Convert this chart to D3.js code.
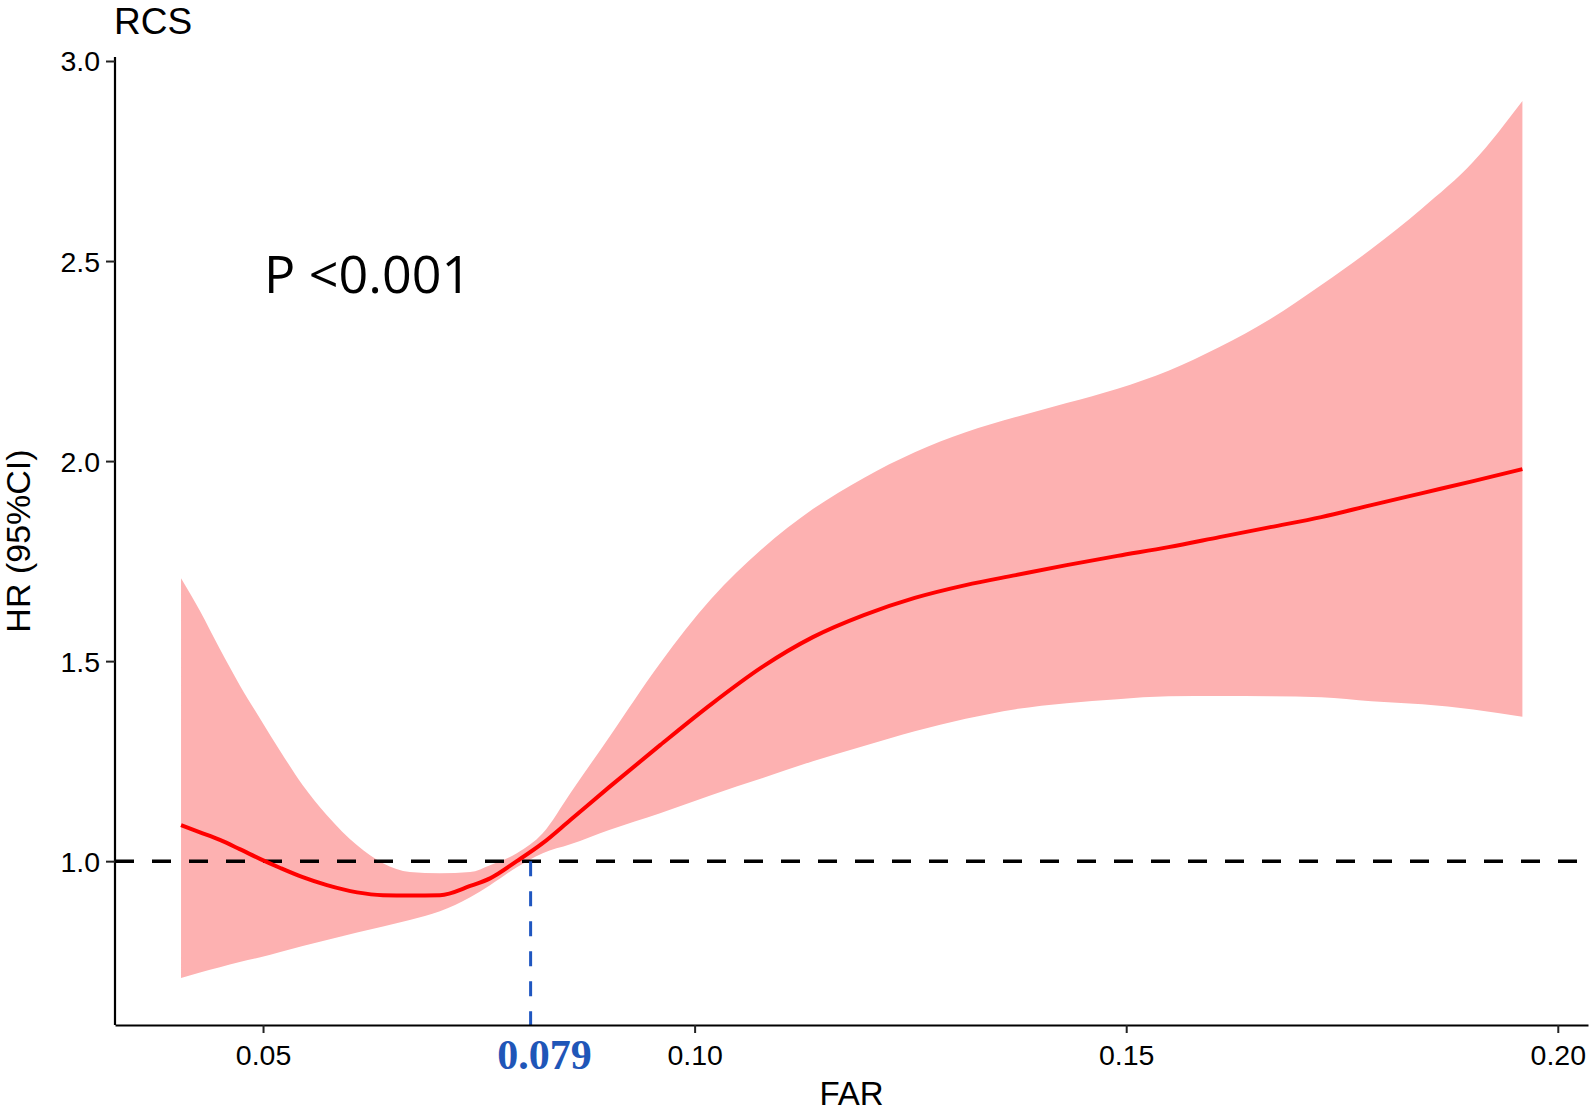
<!DOCTYPE html>
<html>
<head>
<meta charset="utf-8">
<script src="https://cdn.jsdelivr.net/npm/d3@7"></script>
<style>
  html, body { margin: 0; padding: 0; background: #ffffff; }
  svg { display: block; }
</style>
</head>
<body>
<svg id="chart" width="1594" height="1111"></svg>
<script>
// ---- data ----
const far = [0.0405, 0.0427, 0.045, 0.0473, 0.0497, 0.052, 0.0546, 0.0574, 0.0609, 0.0639,
             0.067, 0.0705, 0.074, 0.0763, 0.0794, 0.0824, 0.0856, 0.0901, 0.096, 0.1019,
             0.1078, 0.1137, 0.1196, 0.1255, 0.1314, 0.1372, 0.1431, 0.149, 0.1549, 0.1608,
             0.1667, 0.1726, 0.1784, 0.1843, 0.1902, 0.1959];
const hr = [1.09, 1.072, 1.053, 1.03, 1.005, 0.983, 0.96, 0.94, 0.922, 0.915,
            0.914, 0.915, 0.938, 0.957, 1.0, 1.045, 1.103, 1.185, 1.29, 1.392,
            1.485, 1.56, 1.615, 1.658, 1.69, 1.715, 1.74, 1.763, 1.785, 1.81,
            1.835, 1.86, 1.89, 1.92, 1.95, 1.98];
const upper = [1.707, 1.625, 1.53, 1.44, 1.355, 1.275, 1.19, 1.115, 1.04, 0.995,
               0.973, 0.97, 0.973, 0.99, 1.02, 1.07, 1.17, 1.31, 1.495, 1.655,
               1.78, 1.88, 1.958, 2.022, 2.072, 2.11, 2.145, 2.181, 2.226, 2.285,
               2.355, 2.44, 2.53, 2.632, 2.748, 2.90];
const lower = [0.708, 0.722, 0.735, 0.748, 0.76, 0.773, 0.788, 0.803, 0.822, 0.837,
               0.853, 0.875, 0.91, 0.94, 0.985, 1.02, 1.042, 1.078, 1.12, 1.165,
               1.207, 1.25, 1.288, 1.325, 1.356, 1.38, 1.395, 1.405, 1.412, 1.413,
               1.412, 1.41, 1.40, 1.392, 1.379, 1.361];
const xTicks = [0.05, 0.10, 0.15, 0.20];
const yTicks = [1.0, 1.5, 2.0, 2.5, 3.0];
const refHR = 1.0;
const cutoffX = 0.081;          // where the marker is drawn
const cutoffLabel = "0.079";
const titleText = "RCS";
const pText = "P <0.001";
const xTitle = "FAR";
const yTitle = "HR (95%CI)";

// ---- layout ----
const svg = d3.select("#chart");
const padL = 115, padR = 1588, padT = 61, padB = 1025;

const x = d3.scaleLinear().domain([0.03285, 0.2035]).range([padL, padR]);
const y = d3.scaleLinear().domain([0.5905, 3.0]).range([padB, padT]);

const rows = far.map((f, i) => ({ f, hr: hr[i], lo: lower[i], hi: upper[i] }));

// confidence band
svg.append("path")
  .datum(rows)
  .attr("fill", "#fdb1b1")
  .attr("stroke", "none")
  .attr("d", d3.area()
    .x(d => x(d.f))
    .y0(d => y(d.lo))
    .y1(d => y(d.hi))
    .curve(d3.curveMonotoneX));

// reference line HR = 1
svg.append("line")
  .attr("x1", padL).attr("x2", padR)
  .attr("y1", y(refHR)).attr("y2", y(refHR))
  .attr("stroke", "#000")
  .attr("stroke-width", 3.5)
  .attr("stroke-dasharray", "19,18");

// HR curve
svg.append("path")
  .datum(rows)
  .attr("fill", "none")
  .attr("stroke", "#ff0000")
  .attr("stroke-width", 4)
  .attr("d", d3.line()
    .x(d => x(d.f))
    .y(d => y(d.hr))
    .curve(d3.curveMonotoneX));

// cutoff vertical dashed line
svg.append("line")
  .attr("x1", x(cutoffX)).attr("x2", x(cutoffX))
  .attr("y1", y(refHR)).attr("y2", padB)
  .attr("stroke", "#1f56c0")
  .attr("stroke-width", 3)
  .attr("stroke-dasharray", "15,15");

// axes
const xAxis = svg.append("g")
  .attr("transform", `translate(0,${padB})`)
  .call(d3.axisBottom(x).tickValues(xTicks).tickFormat(d3.format(".2f")).tickSize(8).tickSizeOuter(0).tickPadding(12));
const yAxis = svg.append("g")
  .attr("transform", `translate(${padL},0)`)
  .call(d3.axisLeft(y).tickValues(yTicks).tickFormat(d3.format(".1f")).tickSize(9).tickSizeOuter(0).tickPadding(6));

[xAxis, yAxis].forEach(g => {
  g.select(".domain").attr("stroke", "#000").attr("stroke-width", 2.2);
  g.selectAll(".tick line").attr("stroke", "#222").attr("stroke-width", 2);
  g.selectAll(".tick text")
    .attr("fill", "#000")
    .style("font-family", "'Liberation Sans', Arial, sans-serif")
    .style("font-size", "28.5px");
});
yAxis.select(".domain").attr("d", `M0,${padB}V${padT - 4}`);
yAxis.selectAll(".tick text").attr("dy", "0.35em");

// cutoff label
svg.append("text")
  .attr("x", x(cutoffX) + 14)
  .attr("y", 1069)
  .attr("text-anchor", "middle")
  .attr("fill", "#1f56b8")
  .style("font-family", "'Liberation Serif', 'Times New Roman', serif")
  .style("font-weight", "bold")
  .style("font-size", "42px")
  .text(cutoffLabel);

// title
svg.append("text")
  .attr("x", padL - 1)
  .attr("y", 34)
  .attr("fill", "#000")
  .style("font-family", "'Liberation Sans', Arial, sans-serif")
  .style("font-size", "37px")
  .text(titleText);

// P value
svg.append("text")
  .attr("x", 264)
  .attr("y", 293)
  .attr("fill", "#000")
  .style("font-family", "'Open Sans', 'Noto Sans', sans-serif")
  .style("font-size", "52px")
  .text(pText);

// axis titles
svg.append("text")
  .attr("x", (padL + padR) / 2)
  .attr("y", 1105)
  .attr("text-anchor", "middle")
  .attr("fill", "#000")
  .style("font-family", "'Liberation Sans', Arial, sans-serif")
  .style("font-size", "33px")
  .text(xTitle);

svg.append("text")
  .attr("transform", "translate(30,541) rotate(-90)")
  .attr("text-anchor", "middle")
  .attr("fill", "#000")
  .style("font-family", "'Liberation Sans', Arial, sans-serif")
  .style("font-size", "34px")
  .text(yTitle);
</script>
</body>
</html>
